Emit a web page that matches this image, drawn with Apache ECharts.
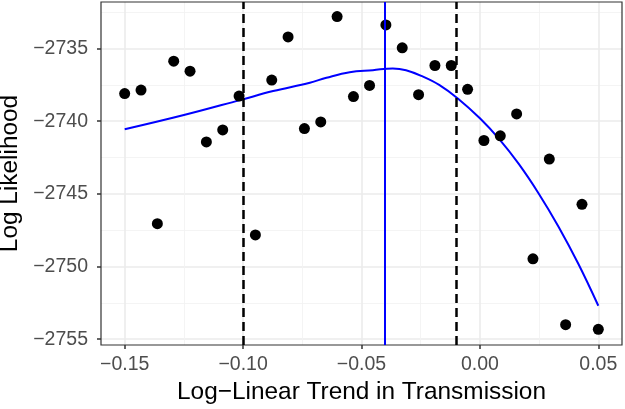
<!DOCTYPE html>
<html>
<head>
<meta charset="utf-8">
<script src="https://cdn.jsdelivr.net/npm/echarts@6/dist/echarts.min.js"></script>
<style>
  html, body { margin: 0; padding: 0; background: #fff; }
  #chart { width: 625px; height: 409px; }
</style>
</head>
<body>
<div id="chart"></div>
<script>
// profile points
const trend = [-0.15, -0.1431, -0.1362, -0.1293, -0.1224, -0.1155, -0.1086, -0.1017, -0.0948, -0.0879,
  -0.0810, -0.0741, -0.0672, -0.0603, -0.0534, -0.0466, -0.0397, -0.0328, -0.0259, -0.0190,
  -0.0121, -0.0052, 0.0017, 0.0086, 0.0155, 0.0224, 0.0293, 0.0362, 0.0431, 0.05]
const loglik = [-2738.1, -2737.86, -2747.05, -2735.87, -2736.56, -2741.43, -2740.6, -2738.27, -2747.83, -2737.17,
  -2734.2, -2740.51, -2740.05, -2732.8, -2738.31, -2737.54, -2733.38, -2734.95, -2738.18, -2736.17,
  -2736.17, -2737.81, -2741.33, -2741.01, -2739.5, -2749.47, -2742.61, -2754.0, -2745.72, -2754.32]

// loess fit
const smoothX = [-0.15, -0.125, -0.1013, -0.0873, -0.0718, -0.0648, -0.055, -0.0452, -0.0368, -0.0312,
  -0.0242, -0.0172, -0.0092, 0.0, 0.008, 0.0164, 0.0248, 0.0332, 0.0416, 0.05]
const smoothY = [-2740.56, -2739.58, -2738.55, -2737.93, -2737.35, -2737.01, -2736.63, -2736.49, -2736.37, -2736.49,
  -2736.92, -2737.5, -2738.45, -2739.8, -2741.2, -2742.94, -2744.97, -2747.26, -2749.83, -2752.7]

const mleLine = -0.0381
const ciLines = [-0.0985, -0.0091]

const xTicks = [-0.15, -0.1, -0.05, 0, 0.05]
const xMinor = [-0.125, -0.075, -0.025, 0.025]
const yTicks = [-2755, -2750, -2745, -2740, -2735]
const yMinor = [-2752.5, -2747.5, -2742.5, -2737.5, -2732.5]

const chart = echarts.init(document.getElementById('chart'))

const minus = s => s.replace('-', '\u2212')
const font = 'Liberation Sans, Arial, Helvetica, sans-serif'

chart.setOption({
  animation: false,
  grid: {
    left: 101,
    right: 3,
    top: 2,
    bottom: 64,
    outerBoundsMode: 'none',
    containLabel: false,
    show: true,
    borderColor: '#333333',
    borderWidth: 1.2,
    z: 5
  },
  xAxis: [{
    type: 'value',
    position: 'bottom',
    min: -0.16,
    max: 0.06,
    name: 'Log\u2212Linear Trend in Transmission',
    nameLocation: 'middle',
    nameGap: 35,
    nameTextStyle: { fontSize: 24.4, color: '#000', fontFamily: font },
    axisLine: { show: false, onZero: false },
    axisTick: { show: true, length: 4, customValues: xTicks, lineStyle: { color: '#333', width: 1.5 } },
    axisLabel: {
      customValues: xTicks,
      margin: 10,
      fontSize: 19.5,
      color: '#4D4D4D',
      fontFamily: font,
      formatter: v => minus(v.toFixed(2))
    },
    splitLine: { show: true, lineStyle: { color: '#EBEBEB', width: 1.6 } }
  }, {
    type: 'value',
    position: 'bottom',
    min: -0.16,
    max: 0.06,
    axisLine: { show: false, onZero: false },
    axisTick: { show: false, customValues: xMinor },
    axisLabel: { show: false, customValues: xMinor },
    splitLine: { show: true, lineStyle: { color: '#F3F3F3', width: 0.9 } }
  }],
  yAxis: [{
    type: 'value',
    position: 'left',
    min: -2755.4,
    max: -2731.8,
    name: 'Log Likelihood',
    nameLocation: 'middle',
    nameGap: 74,
    nameTextStyle: { fontSize: 24.4, color: '#000', fontFamily: font },
    axisLine: { show: false, onZero: false },
    axisTick: { show: true, length: 4, customValues: yTicks, lineStyle: { color: '#333', width: 1.5 } },
    axisLabel: {
      customValues: yTicks,
      margin: 13,
      fontSize: 19.5,
      color: '#4D4D4D',
      fontFamily: font,
      formatter: v => minus(String(v))
    },
    splitLine: { show: true, lineStyle: { color: '#EBEBEB', width: 1.6 } }
  }, {
    type: 'value',
    position: 'left',
    min: -2755.4,
    max: -2731.8,
    axisLine: { show: false, onZero: false },
    axisTick: { show: false, customValues: yMinor },
    axisLabel: { show: false, customValues: yMinor },
    splitLine: { show: true, lineStyle: { color: '#F3F3F3', width: 0.9 } }
  }],
  series: [{
    name: 'profile',
    type: 'scatter',
    symbolSize: 11,
    itemStyle: { color: '#000', opacity: 1 },
    data: trend.map((x, i) => [x, loglik[i]]),
    z: 4
  }, {
    name: 'loess',
    type: 'line',
    smooth: 0.4,
    showSymbol: false,
    lineStyle: { color: '#0000FF', width: 2 },
    data: smoothX.map((x, i) => [x, smoothY[i]]),
    z: 3,
    markLine: {
      silent: true,
      symbol: 'none',
      label: { show: false },
      data: [
        { xAxis: mleLine, lineStyle: { color: '#0000FF', width: 2, type: 'solid' } },
        ...ciLines.map(v => ({ xAxis: v, lineStyle: { color: '#000', width: 2.5, type: [9, 5] } }))
      ]
    }
  }]
})
</script>
</body>
</html>
